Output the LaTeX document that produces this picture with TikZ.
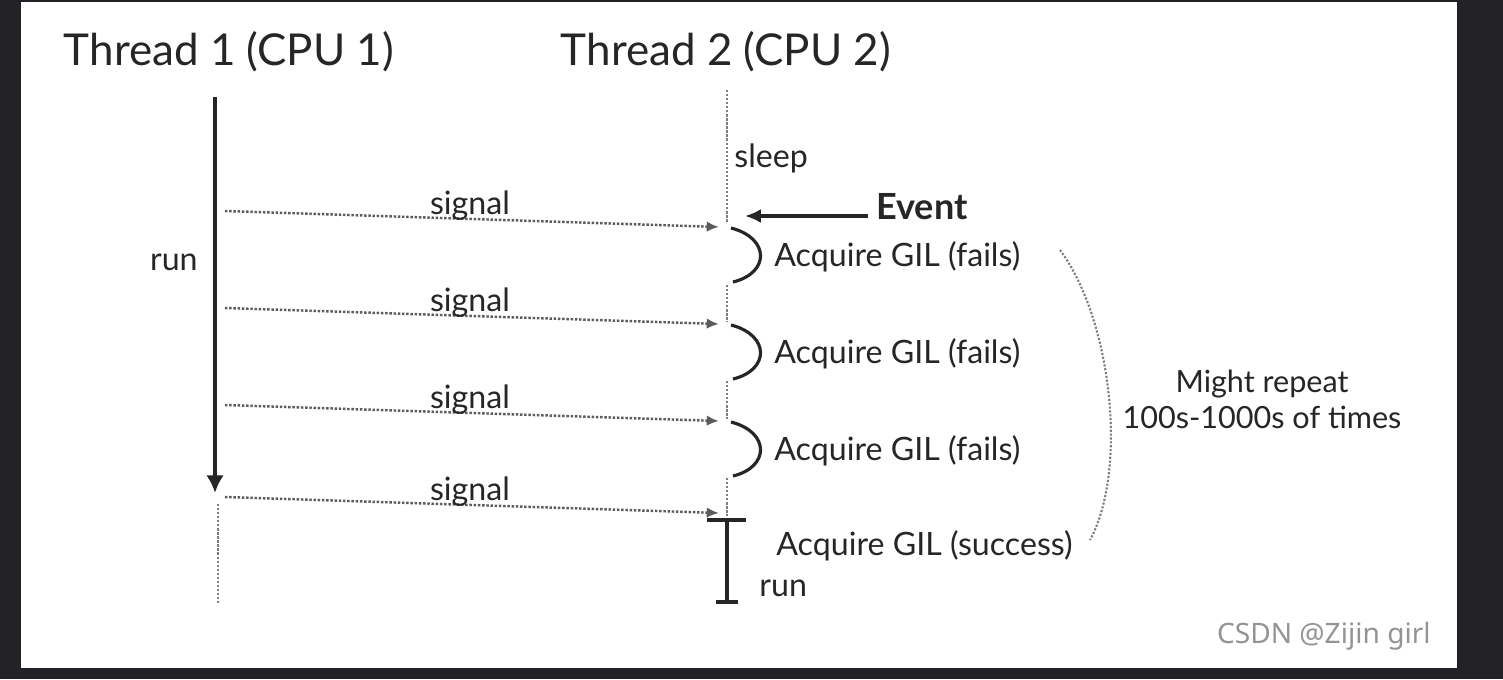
\documentclass[tikz,border=0pt]{standalone}
\usepackage{fontspec}
\setmainfont{Lato}
\setsansfont{Noto Sans}
\usetikzlibrary{arrows,arrows.meta,calc}
\definecolor{ink}{HTML}{262626}
\definecolor{bgdark}{HTML}{232227}
\tikzset{
    >={Latex[length=7pt,width=6pt]},
    lbl/.style={text=ink, font=\fontsize{18.3}{21}\selectfont, inner sep=0pt},
    head/.style={text=ink, font=\fontsize{25}{29}\selectfont, inner sep=0pt},
    sig/.style={->, densely dotted, line width=1.4pt, draw=ink!75},
    life/.style={densely dotted, line width=1.3pt, draw=ink!60},
    gil/.style={line width=1.8pt, draw=ink},
}

\begin{document}
\begin{tikzpicture}[x=0.02cm, y=-0.02cm]
    \useasboundingbox (0,0) rectangle (1503,679);
    \fill[bgdark] (0,0) rectangle (1503,679);
    \fill[white] (21,2) rectangle (1457,668);

    % headings
    \node[head] (t1head) at (229,52) {Thread 1 (CPU 1)};
    \node[head] (t2head) at (726,52) {Thread 2 (CPU 2)};

    % thread 1
    \coordinate (t1top) at (215,97);
    \coordinate (t1end) at (215,493);
    \draw[-{Latex[length=10pt,width=10pt]}, line width=2.6pt, draw=ink] (t1top) -- (t1end);
    \draw[life] (218,504) coordinate (t1idle) -- (218,605) coordinate (t1bot);
    \node[lbl, anchor=east] (run1) at (198,262) {run};

    % thread 2
    \draw[life] (727,90) coordinate (t2top) -- (727,222) coordinate (t2wake);
    \node[lbl, anchor=west] (sleep) at (734,158) {sleep};

    \node[lbl, font=\fontsize{20.5}{23}\selectfont\bfseries, anchor=west] (event) at (876,207) {Event};
    \draw[-{Latex[length=9pt,width=8pt]}, line width=2.2pt, draw=ink] (868,216) coordinate (evtail) -- (745,216) coordinate (evtip);

    \foreach \i/\ya/\yb in {1/211/227, 2/308/324, 3/405/421, 4/497/513} {
        \coordinate (s\i a) at (225,\ya);
        \coordinate (s\i b) at (719,\yb);
        \draw[sig] (s\i a) -- (s\i b);
        \node[lbl, anchor=base] (sig\i) at (470,\ya+3) {signal};
    }

    % failed attempts
    \foreach \i/\y in {1/228, 2/325, 3/422} {
        \draw[gil] (731,\y) .. controls (770,\y+10) and (770,\y+45) .. (733,\y+54);
        \node[lbl, anchor=west] (acq\i) at (774,\y+29) {Acquire GIL (fails)};
    }
    \draw[life] (727,285) -- (727,322);
    \draw[life] (727,381) -- (727,419);
    \draw[life] (727,478) -- (727,516);

    % success
    \draw[gil] (707,520) coordinate (okl) -- (746,520) coordinate (okr);
    \draw[gil] (727,520) coordinate (okt) -- (727,602) coordinate (okb);
    \draw[gil] (716,602) -- (738,602);
    \node[lbl, anchor=west] (acqok) at (776,546) {Acquire GIL (success)};
    \node[lbl, anchor=west] (run2) at (759,588) {run};

    % repeat bracket
    \draw[life, line width=1.2pt] (1060,250) .. controls (1112,320) and (1128,470) .. (1090,540);
    \node[lbl, font=\fontsize{17.4}{20.5}\selectfont, align=center] (repeat) at (1262,399) {Might repeat\\100s-1000s of times};

    \node[font=\sffamily\fontsize{16}{18}\selectfont, text=black!42, anchor=east, inner sep=0pt] (mark) at (1431,636) {CSDN @Zijin girl};
\end{tikzpicture}
\end{document}
